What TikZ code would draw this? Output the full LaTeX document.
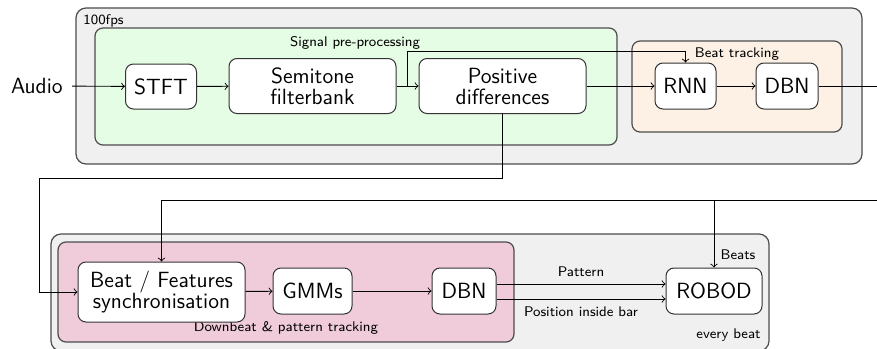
\documentclass[tikz,border=0pt]{standalone}
\usetikzlibrary{calc}
\definecolor{gbg}{RGB}{240,240,240}
\definecolor{greenbg}{RGB}{229,252,229}
\definecolor{orangebg}{RGB}{253,240,228}
\definecolor{pinkbg}{RGB}{240,204,218}
\begin{document}
\begin{tikzpicture}[x=0.5pt,y=-0.5pt,
  box/.style={draw=black!80, fill=white, rounded corners=4pt, line width=0.5pt,
    font=\fontsize{11}{10.5}\selectfont\sffamily, align=center, inner sep=0pt},
  grp/.style={draw=black!70, rounded corners=4pt, line width=0.6pt},
  lbl/.style={font=\fontsize{7}{8}\selectfont\sffamily, inner sep=0pt},
  conn/.style={->, line width=0.45pt},
  ln/.style={line width=0.45pt}]
\useasboundingbox (0,0) rectangle (877,348);
% containers
\draw[grp, fill=gbg, rounded corners=5pt] (76,8) rectangle (862,164);
\draw[grp, fill=greenbg] (95,28) rectangle (617,145);
\draw[grp, fill=orangebg] (632,41) rectangle (842,132);
\draw[grp, fill=gbg, rounded corners=5pt] (51,234) rectangle (769,351);
\draw[grp, fill=pinkbg] (58,242) rectangle (514,342);
% labels
\node[lbl, anchor=base west] (fps) at (83,25) {100fps};
\node[lbl, anchor=base] (spp) at (355,46) {Signal pre-processing};
\node[lbl, anchor=base] (bt) at (737,57) {Beat tracking};
\node[lbl, anchor=base] (dpt) at (286,331) {Downbeat \& pattern tracking};
\node[lbl, anchor=base] (beats) at (738,259) {Beats};
\node[lbl, anchor=base east] (eb) at (761,338) {every beat};
% nodes
\node[font=\fontsize{11}{11}\selectfont\sffamily, inner sep=0pt, inner xsep=4.5pt, anchor=east, minimum height=16pt] (audio) at (72,86) {Audio};
\node[box, minimum width=35.5pt, minimum height=22.5pt] (stft) at (161,86.5) {STFT};
\node[box, minimum width=83.5pt, minimum height=27.5pt] (semi) at (312.5,86) {Semitone\\filterbank};
\node[box, minimum width=83.5pt, minimum height=27.5pt] (pd) at (502.5,86) {Positive\\differences};
\node[box, minimum width=30.5pt, minimum height=23pt] (rnn) at (685.5,86) {RNN};
\node[box, minimum width=31pt, minimum height=23pt] (dbna) at (787,86) {DBN};
\node[box, minimum width=83.5pt, minimum height=30pt] (bf) at (161.5,292) {Beat / Features\\synchronisation};
\node[box, minimum width=39.5pt, minimum height=23pt] (gmm) at (312.5,291) {GMMs};
\node[box, minimum width=32pt, minimum height=23pt] (dbnb) at (464,291) {DBN};
\node[box, minimum width=48pt, minimum height=23pt] (robod) at (714,291) {ROBOD};
\coordinate (outA) at (877,86);
\coordinate (inB) at (877,200);
% connectors
\draw[conn] (audio) -- (stft);
\draw[conn] (stft) -- (semi);
\draw[conn] (semi) -- (pd);
\draw[conn] (pd) -- (rnn);
\draw[conn] (rnn) -- (dbna);
\draw[ln] (dbna) -- (outA);
\draw[conn] ($(semi.east)!0.5!(pd.west)$) -- ++(0,-35) -| (rnn.north);
\draw[conn] (pd.south) -- ++(0,64) -| ($(bf.west)+(-38,0)$) -- (bf.west);
\draw[conn] (inB) -| (bf.north);
\draw[conn] (inB) -| (robod.north);
\draw[conn] (bf) -- (gmm);
\draw[conn] (gmm) -- (dbnb);
\draw[conn] ([yshift=3.5pt]dbnb.east) -- ([yshift=3.5pt]robod.west)
  node[lbl, midway, anchor=base, yshift=4pt] (pat) {Pattern};
\draw[conn] ([yshift=-4pt]dbnb.east) -- ([yshift=-4pt]robod.west)
  node[lbl, midway, anchor=base, yshift=-8.5pt] (pos) {Position inside bar};
\end{tikzpicture}
\end{document}
